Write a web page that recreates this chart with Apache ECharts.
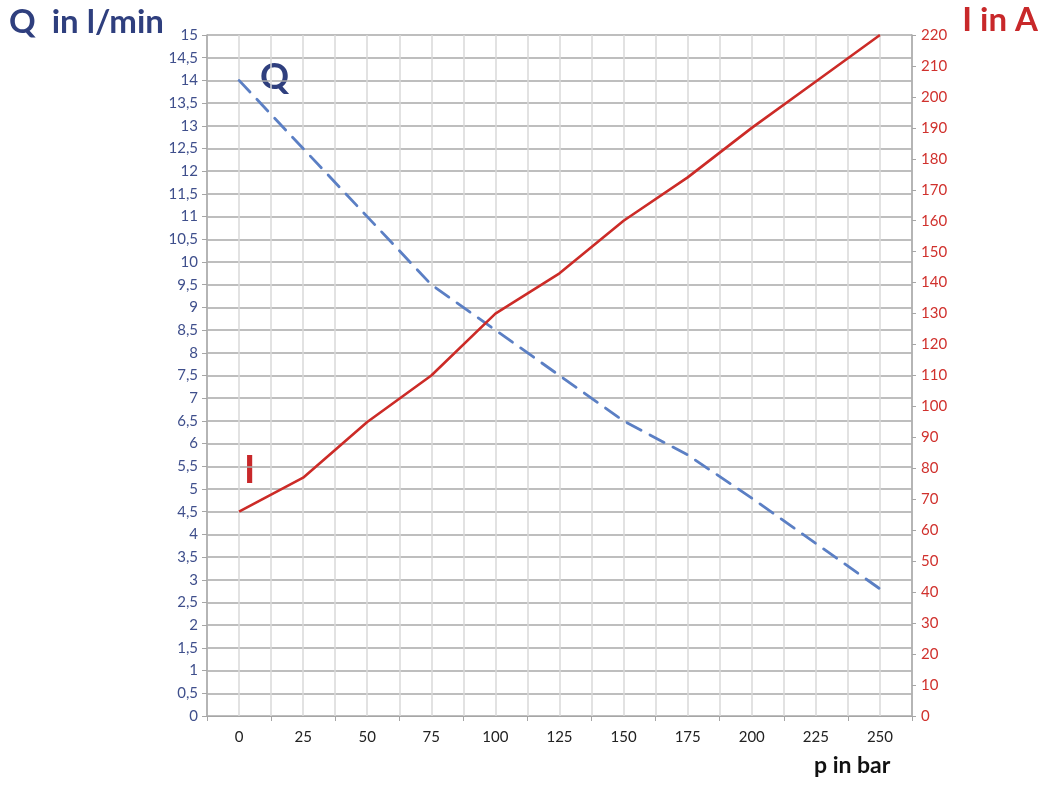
<!DOCTYPE html>
<html>
<head>
<meta charset="utf-8">
<script src="https://cdn.jsdelivr.net/npm/echarts@6/dist/echarts.min.js"></script>
<style>
html,body{margin:0;padding:0;background:#fff;}
#chart{width:1042px;height:785px;}
</style>
</head>
<body>
<div id="chart"></div>
<script>
var pressures = ['0','25','50','75','100','125','150','175','200','225','250'];
var flowQ = [14, 12.5, 11, 9.5, 8.5, 7.5, 6.5, 5.75, 4.8, 3.8, 2.8];
var currentI = [66, 77, 95, 110, 130, 143, 160, 174, 190, 205, 220];

var FONT = 'Lato, "Open Sans", sans-serif';
var chart = echarts.init(document.getElementById('chart'));
chart.setOption({
  animation: false,
  backgroundColor: '#ffffff',
  grid: { left: 207, right: 130, top: 35, bottom: 69, containLabel: false },
  xAxis: [{
    type: 'category',
    data: pressures,
    boundaryGap: true,
    axisLine: { onZero: false, lineStyle: { color: '#a6a6a6', width: 1 } },
    axisTick: { show: true, length: 5, lineStyle: { color: '#a6a6a6' } },
    axisLabel: { color: '#222', fontSize: 15, fontFamily: FONT, margin: 14 },
    splitLine: { show: false },
    z: 3
  }, {
    type: 'value',
    min: -12.5, max: 262.5, interval: 12.5,
    position: 'bottom',
    axisLine: { show: false, onZero: false },
    axisTick: { show: false },
    axisLabel: { show: false },
    splitLine: { show: true, lineStyle: { color: '#d9d9d9', width: 1.5 } }
  }],
  yAxis: [{
    type: 'value',
    min: 0, max: 15, interval: 0.5,
    position: 'left',
    axisLine: { show: true, onZero: false, lineStyle: { color: '#a6a6a6', width: 1.5 } },
    axisTick: { show: true, length: 5, lineStyle: { color: '#a6a6a6' } },
    axisLabel: { color: '#3f4f8c', fontSize: 15, fontFamily: FONT, margin: 9,
      formatter: function (v) { return String(v).replace('.', ','); } },
    splitLine: { show: true, lineStyle: { color: '#a8a8a8', width: 1.5 } }
  }, {
    type: 'value',
    min: 0, max: 220, interval: 10,
    position: 'right',
    axisLine: { show: true, onZero: false, lineStyle: { color: '#a6a6a6', width: 1.5 } },
    axisTick: { show: true, length: 4, lineStyle: { color: '#a6a6a6' } },
    axisLabel: { color: '#d0312d', fontSize: 15, fontFamily: FONT, margin: 9,
      formatter: function (v) { return String(v); } },
    splitLine: { show: false }
  }],
  series: [{
    name: 'Q',
    type: 'line',
    xAxisIndex: 0, yAxisIndex: 0,
    data: flowQ,
    symbol: 'none',
    lineStyle: { color: '#5b7fc4', width: 2.8, type: [16, 10], cap: 'round' },
    z: 4
  }, {
    name: 'I',
    type: 'line',
    xAxisIndex: 0, yAxisIndex: 1,
    data: currentI,
    symbol: 'none',
    lineStyle: { color: '#cc2b27', width: 2.6 },
    z: 5
  }],
  graphic: [
    { type: 'text', left: 9, top: 6, style: { text: 'Q  in l/min', font: 'bold 33px ' + FONT, fill: '#2f3f7e' } },
    { type: 'text', right: 4, top: 4, style: { text: 'I in A', font: 'bold 33px ' + FONT, fill: '#c8282a' } },
    { type: 'text', left: 814, top: 754, style: { text: 'p in bar', font: 'bold 23px ' + FONT, fill: '#111' } },
    { type: 'text', left: 260, top: 59, style: { text: 'Q', font: 'bold 36px ' + FONT, fill: '#2f3f7e' } },
    { type: 'text', left: 244, top: 452, style: { text: 'I', font: 'bold 38px ' + FONT, fill: '#c8282a' } }
  ]
});
</script>
</body>
</html>
